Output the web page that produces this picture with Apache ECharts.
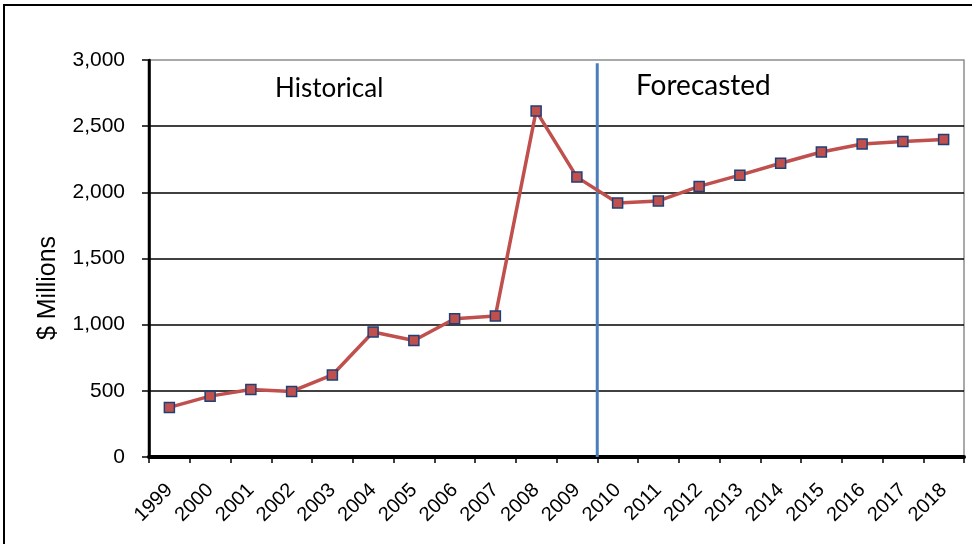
<!DOCTYPE html>
<html>
<head>
<meta charset="utf-8">
<script src="https://cdn.jsdelivr.net/npm/echarts@6/dist/echarts.min.js"></script>
<style>
html,body{margin:0;padding:0;background:#fff;}
#chart{width:972px;height:544px;}
</style>
</head>
<body>
<div id="chart"></div>
<script>
var years = ['1999','2000','2001','2002','2003','2004','2005','2006','2007','2008','2009','2010','2011','2012','2013','2014','2015','2016','2017','2018'];
var revenue = [375, 460, 510, 495, 620, 945, 880, 1045, 1065, 2615, 2115, 1920, 1935, 2045, 2130, 2220, 2305, 2365, 2385, 2400];
var forecastStartYear = ['2010'];
var dividerRange = [0, 2975];
var yTicks = [0, 500, 1000, 1500, 2000, 2500, 3000];
var regionLabels = ['Historical', 'Forecasted'];
var yAxisTitle = '$ Millions';

// boundary position on a helper value axis spanning [0, number of years]
var divX = years.indexOf(forecastStartYear[0]);
var yMin = yTicks[0], yMax = yTicks[yTicks.length - 1], yStep = yTicks[1] - yTicks[0];

var chart = echarts.init(document.getElementById('chart'));
chart.setOption({
  animation: false,
  backgroundColor: '#fff',
  graphic: [
    {type: 'rect', shape: {x: 4, y: 5, width: 1200, height: 1200}, style: {fill: 'none', stroke: '#000', lineWidth: 2}, silent: true},
    {type: 'text', left: 275, top: 76, style: {text: regionLabels[0], fontFamily: 'Lato', fontSize: 26, fill: '#000'}},
    {type: 'text', left: 636, top: 72, style: {text: regionLabels[1], fontFamily: 'Lato', fontSize: 28, fill: '#000'}},
    {type: 'text', x: 48, y: 288, rotation: Math.PI / 2,
      style: {text: yAxisTitle, fontFamily: 'Liberation Sans', fontSize: 25, fill: '#000', align: 'center', verticalAlign: 'middle'}}
  ],
  grid: {left: 149, right: 8, top: 60, bottom: 87, show: false},
  xAxis: [
    {
      type: 'category', data: years, boundaryGap: true, z: 5,
      axisLine: {onZero: false, lineStyle: {color: '#000', width: 4}},
      axisTick: {show: true, length: 6, lineStyle: {color: '#000', width: 1.5}},
      axisLabel: {rotate: 45, margin: 30, color: '#000', fontFamily: 'Liberation Sans', fontSize: 20, interval: 0},
      splitLine: {show: false}
    },
    {type: 'value', min: 0, max: years.length, show: false}
  ],
  yAxis: [
    {
      type: 'value', position: 'left', min: yMin, max: yMax, interval: yStep, z: 4,
      axisLine: {show: true, onZero: true, onZeroAxisIndex: 1, lineStyle: {color: '#000', width: 2.5}},
      axisTick: {show: true, length: 7, lineStyle: {color: '#000', width: 1.5}},
      axisLabel: {color: '#000', fontFamily: 'Liberation Sans', fontSize: 21, margin: 24,
        formatter: function (v) { return String(v).replace(/\B(?=(\d{3})+(?!\d))/g, ','); }},
      splitLine: {show: true, lineStyle: {color: ['#000','#000','#000','#000','#000','#000','#8c8c8c'], width: 1.5}}
    },
    {
      type: 'value', position: 'right', min: yMin, max: yMax, interval: yStep, z: 3,
      axisLine: {show: true, onZero: false, lineStyle: {color: '#8c8c8c', width: 1.5}},
      axisTick: {show: false}, axisLabel: {show: false}, splitLine: {show: false}
    }
  ],
  series: [
    {
      // reinforces the left value-axis line along the axis edge
      type: 'line', xAxisIndex: 1, yAxisIndex: 0, z: 5, clip: false,
      data: [[0, yMin], [0, yMax]],
      symbol: 'none', lineStyle: {color: '#000', width: 2.5}, silent: true
    },
    {
      type: 'line', xAxisIndex: 1, yAxisIndex: 0, z: 6,
      data: [[divX, dividerRange[0]], [divX, dividerRange[1]]],
      symbol: 'none', lineStyle: {color: '#4A7EBB', width: 3}, silent: true
    },
    {
      type: 'line', xAxisIndex: 0, yAxisIndex: 0, z: 7,
      data: revenue,
      symbol: 'rect', symbolSize: 10,
      lineStyle: {color: '#C0504D', width: 3.5},
      itemStyle: {color: '#C0504D', borderColor: '#1F3F77', borderWidth: 1.5}
    }
  ]
});
</script>
</body>
</html>
